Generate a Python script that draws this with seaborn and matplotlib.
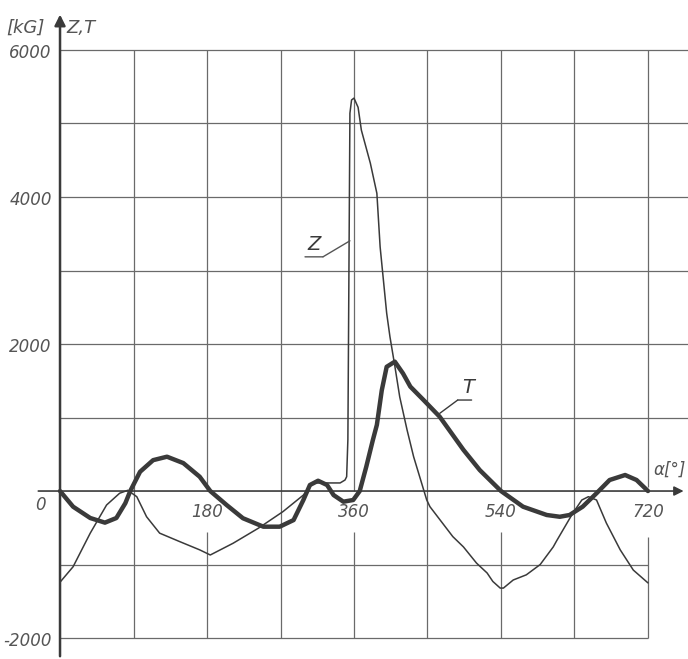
import matplotlib
matplotlib.use('Agg')
import matplotlib.pyplot as plt
import pandas as pd
import seaborn as sns

# Values (crank angle in degrees, force in kG)
t_deg = [0, 16, 37, 55, 69, 80, 86, 98, 114, 131, 151, 171, 184, 204, 224, 249, 269,
         286, 298, 306, 316, 327, 335, 347, 359, 367, 375, 383, 388, 394, 400, 410, 420,
         429, 445, 465, 494, 514, 540, 567, 596, 612, 624, 640, 657, 673, 692, 706, 720]
t_val = [0, -213, -367, -430, -367, -165, 0, 262, 420, 467, 380, 195, 0, -190, -370, -485, -485,
         -395, -122, 82, 140, 82, -55, -145, -122, 0, 330, 690, 900, 1370, 1690, 1760, 1600,
         1420, 1240, 1010, 560, 285, 0, -213, -326, -350, -326, -213, -30, 150, 218, 150, 0]

z_deg = [0, 16, 37, 57, 73, 83, 94, 106, 122, 147, 171, 184, 212, 243, 273, 298, 310, 327,
         343, 349, 351, 352.5, 355, 357, 360, 365, 369, 380, 388, 392, 400, 404, 410, 416,
         425, 433, 449, 453, 481, 494, 510, 523, 530, 539, 543, 555, 571, 588, 604, 608,
         628, 639, 647, 657, 669, 686, 702, 720]
z_val = [-1240, -1030, -573, -190, -30, 10, -77, -350, -573, -690, -800, -870, -710, -505, -280, -55, 110, 110,
         110, 150, 195, 700, 5140, 5320, 5345, 5220, 4910, 4460, 4050, 3320, 2420, 2100, 1700, 1280,
         830, 467, -120, -213, -620, -760, -980, -1115, -1230, -1320, -1320, -1210, -1140, -1000, -760, -680,
         -300, -122, -77, -122, -435, -800, -1075, -1250]

x_ticks = [0, 180, 360, 540, 720]
y_ticks = [6000, 4000, 2000, -2000]

ink = '#3a3a3a'
grid_c = '#6a6a6a'
text_c = '#555555'

sns.set_style('white')
fig = plt.figure(figsize=(6.88, 6.59), dpi=100)
ax = fig.add_axes([0, 0, 1, 1])

# grid, drawn in pieces like the original sheet
for x in [90, 270, 450, 630]:
    ax.vlines(x, -2000, 6000, color=grid_c, lw=0.9)
for x in [180, 360, 540]:
    ax.vlines(x, 0, 6000, color=grid_c, lw=0.9)
    ax.vlines(x, -2000, -560, color=grid_c, lw=0.9)
ax.vlines(720, 50, 6000, color=grid_c, lw=0.9)
ax.vlines(720, -2000, -625, color=grid_c, lw=0.9)
for y in range(1000, 7000, 1000):
    ax.hlines(y, 0, 769, color=grid_c, lw=0.9)
for y in [-1000, -2000]:
    ax.hlines(y, 0, 720, color=grid_c, lw=0.9)

# axes with arrows
ax.annotate('', xy=(0, 6520), xytext=(0, -2285),
            arrowprops=dict(arrowstyle='-|>', lw=1.8, color=ink, mutation_scale=16))
ax.annotate('', xy=(767, 0), xytext=(-30, 0),
            arrowprops=dict(arrowstyle='-|>', lw=1.2, color=ink, mutation_scale=14))

# curves
df_t = pd.DataFrame({'deg': t_deg, 'val': t_val})
df_z = pd.DataFrame({'deg': z_deg, 'val': z_val})
sns.lineplot(data=df_z, x='deg', y='val', sort=False, estimator=None, ax=ax,
             color=ink, lw=1.1)
sns.lineplot(data=df_t, x='deg', y='val', sort=False, estimator=None, ax=ax,
             color=ink, lw=3.2, solid_joinstyle='round', solid_capstyle='round')
ax.set_xlim(-73.5, 769)
ax.set_ylim(-2285, 6680)
ax.axis('off')

# labels
lab = dict(color=text_c, style='italic', fontsize=12)
for x in x_ticks[1:]:
    ax.text(x, -280, str(x), ha='center', va='center', **lab)
ax.text(-24, -190, '0', ha='center', va='center', **lab)
for y in y_ticks:
    ax.text(-10, y - 40, str(y), ha='right', va='center', **lab)
ax.text(-42, 6300, '[kG]', ha='center', va='center', color=text_c, style='italic', fontsize=13)
ax.text(8, 6300, 'Z,T', ha='left', va='center', color=text_c, style='italic', fontsize=13)
ax.text(747, 290, 'α[°]', ha='center', va='center', color=text_c, style='italic', fontsize=12)

# curve name leaders
seg = dict(arrowstyle='-', lw=1, shrinkA=0, shrinkB=0)
ax.text(311, 3230, 'Z', ha='center', va='bottom', color=ink, style='italic', fontsize=14)
ax.annotate('', xy=(322, 3186), xytext=(300, 3186), arrowprops=dict(color=text_c, **seg))
ax.annotate('', xy=(355, 3404), xytext=(322, 3186), arrowprops=dict(color=text_c, **seg))
ax.text(500, 1280, 'T', ha='center', va='bottom', color=ink, style='italic', fontsize=14)
ax.annotate('', xy=(504, 1238), xytext=(487, 1238), arrowprops=dict(color=ink, **seg))
ax.annotate('', xy=(465, 1057), xytext=(487, 1238), arrowprops=dict(color=ink, **seg))

fig.savefig('out.png', dpi=100)
